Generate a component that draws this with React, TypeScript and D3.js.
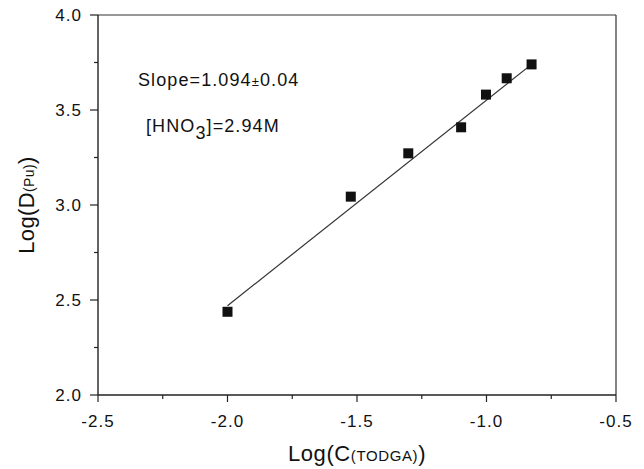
import React from "react";
import * as d3 from "d3";

const xValues = [-2.0, -1.524, -1.302, -1.098, -1.002, -0.922, -0.826];
const yValues = [2.438, 3.044, 3.272, 3.409, 3.581, 3.667, 3.74];
const fitX = [-2.0, -0.826];
const fitY = [2.47, 3.74];
const xTicks = [-2.5, -2.0, -1.5, -1.0, -0.5];
const xMinorTicks = [-2.25, -1.75, -1.25, -0.75];
const yTicks = [2.0, 2.5, 3.0, 3.5, 4.0];
const yMinorTicks = [2.25, 2.75, 3.25, 3.75];

const W = 644;
const H = 469;
const M = { left: 98, right: 616, top: 15, bottom: 395 };
const FONT = "'Liberation Sans', Arial, Helvetica, sans-serif";

export default function App() {
  const x = d3.scaleLinear().domain([-2.5, -0.5]).range([M.left, M.right]);
  const y = d3.scaleLinear().domain([2.0, 4.0]).range([M.bottom, M.top]);
  const line = d3
    .line<number>()
    .x((_, i) => x(fitX[i]))
    .y((d) => y(d));
  const axisColor = "#222";
  const sq = 10;

  return (
    <svg
      width={W}
      height={H}
      style={{ position: "absolute", left: 0, top: 0, background: "#fff" }}
      fontFamily={FONT}
    >
      {/* frame */}
      <line x1={M.left} x2={M.right} y1={M.top} y2={M.top} stroke="#333" strokeWidth={1.2} />
      <line x1={M.right} x2={M.right} y1={M.top} y2={M.bottom} stroke="#333" strokeWidth={1.2} />
      <line x1={M.left} x2={M.right} y1={M.bottom} y2={M.bottom} stroke={axisColor} strokeWidth={1.4} />
      <line x1={M.left} x2={M.left} y1={M.top} y2={M.bottom} stroke={axisColor} strokeWidth={1.4} />

      {/* x ticks */}
      {xTicks.map((t) => (
        <g key={"xt" + t}>
          <line x1={x(t)} x2={x(t)} y1={M.bottom} y2={M.bottom + 7} stroke={axisColor} strokeWidth={1.2} />
          <text x={x(t)} y={427} textAnchor="middle" fontSize={17} letterSpacing={1} fill="#111">
            {t.toFixed(1)}
          </text>
        </g>
      ))}
      {xMinorTicks.map((t) => (
        <line key={"xm" + t} x1={x(t)} x2={x(t)} y1={M.bottom} y2={M.bottom + 4} stroke={axisColor} strokeWidth={1.2} />
      ))}

      {/* y ticks */}
      {yTicks.map((t) => (
        <g key={"yt" + t}>
          <line x1={M.left - 8} x2={M.left} y1={y(t)} y2={y(t)} stroke={axisColor} strokeWidth={1.2} />
          <text x={82} y={y(t) + 6} textAnchor="end" fontSize={17} letterSpacing={1} fill="#111">
            {t.toFixed(1)}
          </text>
        </g>
      ))}
      {yMinorTicks.map((t) => (
        <line key={"ym" + t} x1={M.left - 4} x2={M.left} y1={y(t)} y2={y(t)} stroke={axisColor} strokeWidth={1.2} />
      ))}

      {/* axis titles */}
      <text x={(M.left + M.right) / 2} y={461} textAnchor="middle" fontSize={22} letterSpacing={0.6} fill="#111">
        Log(C<tspan fontSize={15}>(TODGA)</tspan>)
      </text>
      <text
        transform={`translate(34, ${(M.top + M.bottom) / 2}) rotate(-90)`}
        textAnchor="middle"
        fontSize={22}
        letterSpacing={0.4}
        fill="#111"
      >
        Log(D<tspan fontSize={14}>(Pu)</tspan>)
      </text>

      {/* fit line */}
      <path d={line(fitY) || ""} fill="none" stroke="#333" strokeWidth={1.2} />

      {/* points */}
      {xValues.map((v, i) => (
        <rect
          key={"p" + i}
          x={x(v) - sq / 2}
          y={y(yValues[i]) - sq / 2}
          width={sq}
          height={sq}
          fill="#111"
        />
      ))}

      {/* annotations */}
      <text x={138} y={86} fontSize={18} letterSpacing={1.1} fill="#111">
        Slope=1.094<tspan fontSize={13}>±</tspan>0.04
      </text>
      <text x={146} y={132} fontSize={18} letterSpacing={1.1} fill="#111">
        [HNO<tspan dy={7}>3</tspan>
        <tspan dy={-7}>]=2.94M</tspan>
      </text>
    </svg>
  );
}
